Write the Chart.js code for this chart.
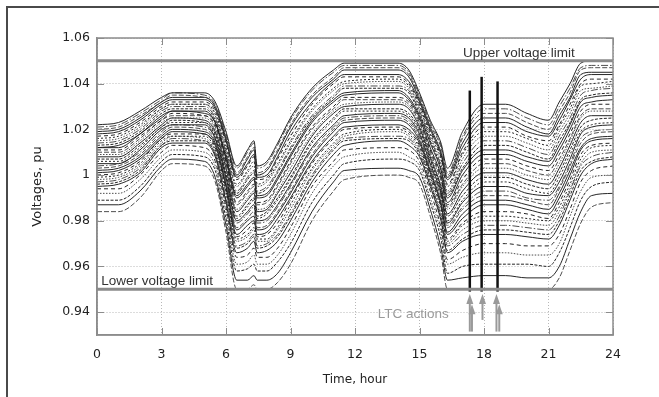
<!DOCTYPE html>
<html>
<head>
<meta charset="utf-8">
<script src="https://cdn.jsdelivr.net/npm/chart.js@4.4.0/dist/chart.umd.min.js"></script>
<style>
  html, body { margin: 0; padding: 0; background: #fff; }
  #wrap { position: relative; width: 659px; height: 397px; overflow: hidden; }
  #frame { position: absolute; left: 6px; top: 6px; width: 720px; height: 460px; border: 2px solid #4a4a4a; }
  canvas { position: absolute; left: 0; top: 0; }
</style>
</head>
<body>
<div id="wrap"><div id="frame"></div><canvas id="chartCanvas" width="659" height="397"></canvas></div>
<script>
    // time of each snapshot, hours
    const hours = [0, 1, 2, 3, 3.5, 5, 5.5, 6, 6.5, 7, 7.3, 7.45, 7.9, 8.4, 9, 10, 11, 11.5,
                   14, 14.5, 15, 15.5, 16, 16.3, 17, 18, 19, 20, 21, 21.5, 22, 22.5, 23, 24];

    // bus voltages (pu) at each snapshot, one column per bus
    const voltageSnapshots = [
      [1.022, 1.020, 1.018, 1.016, 1.014, 1.012, 1.011, 1.009, 1.007, 1.005, 1.003, 1.001, 0.999, 0.997, 0.995, 0.994, 0.992, 0.989, 0.987, 0.984],
      [1.023, 1.021, 1.019, 1.017, 1.015, 1.013, 1.011, 1.009, 1.007, 1.005, 1.004, 1.002, 1.000, 0.998, 0.996, 0.994, 0.992, 0.989, 0.987, 0.984],
      [1.028, 1.026, 1.024, 1.022, 1.020, 1.018, 1.017, 1.015, 1.013, 1.011, 1.009, 1.007, 1.005, 1.003, 1.001, 1.000, 0.998, 0.995, 0.993, 0.990],
      [1.034, 1.032, 1.031, 1.029, 1.028, 1.026, 1.024, 1.023, 1.021, 1.020, 1.018, 1.016, 1.015, 1.013, 1.012, 1.010, 1.008, 1.006, 1.004, 1.002],
      [1.036, 1.035, 1.033, 1.031, 1.030, 1.028, 1.027, 1.025, 1.024, 1.022, 1.021, 1.019, 1.017, 1.016, 1.014, 1.013, 1.011, 1.009, 1.007, 1.005],
      [1.036, 1.034, 1.033, 1.031, 1.030, 1.028, 1.026, 1.025, 1.023, 1.022, 1.020, 1.018, 1.017, 1.015, 1.014, 1.012, 1.010, 1.008, 1.006, 1.004],
      [1.032, 1.030, 1.029, 1.027, 1.025, 1.023, 1.022, 1.020, 1.018, 1.016, 1.015, 1.013, 1.011, 1.009, 1.008, 1.006, 1.004, 1.002, 0.999, 0.997],
      [1.019, 1.017, 1.015, 1.012, 1.010, 1.008, 1.006, 1.004, 1.001, 0.999, 0.997, 0.995, 0.993, 0.990, 0.988, 0.986, 0.984, 0.981, 0.978, 0.975],
      [1.004, 1.001, 0.999, 0.996, 0.993, 0.991, 0.988, 0.985, 0.982, 0.980, 0.977, 0.974, 0.972, 0.969, 0.966, 0.964, 0.961, 0.958, 0.954, 0.950],
      [1.011, 1.008, 1.005, 1.002, 0.999, 0.996, 0.993, 0.990, 0.987, 0.984, 0.981, 0.978, 0.974, 0.971, 0.968, 0.965, 0.962, 0.959, 0.954, 0.950],
      [1.015, 1.012, 1.009, 1.006, 1.002, 0.999, 0.996, 0.993, 0.990, 0.987, 0.984, 0.980, 0.977, 0.974, 0.971, 0.968, 0.965, 0.961, 0.956, 0.952],
      [1.004, 1.001, 0.999, 0.996, 0.993, 0.991, 0.988, 0.985, 0.982, 0.980, 0.977, 0.974, 0.972, 0.969, 0.966, 0.964, 0.961, 0.958, 0.954, 0.950],
      [1.006, 1.003, 1.000, 0.998, 0.995, 0.992, 0.989, 0.986, 0.984, 0.981, 0.978, 0.975, 0.972, 0.970, 0.967, 0.964, 0.961, 0.958, 0.954, 0.950],
      [1.014, 1.011, 1.008, 1.005, 1.002, 0.999, 0.996, 0.993, 0.990, 0.987, 0.984, 0.981, 0.977, 0.974, 0.971, 0.968, 0.965, 0.962, 0.957, 0.953],
      [1.025, 1.022, 1.019, 1.015, 1.012, 1.009, 1.006, 1.003, 0.999, 0.996, 0.993, 0.990, 0.987, 0.983, 0.980, 0.977, 0.974, 0.970, 0.966, 0.961],
      [1.038, 1.035, 1.032, 1.029, 1.026, 1.024, 1.021, 1.018, 1.015, 1.012, 1.009, 1.006, 1.003, 1.000, 0.997, 0.995, 0.992, 0.988, 0.984, 0.980],
      [1.046, 1.043, 1.041, 1.038, 1.035, 1.033, 1.030, 1.028, 1.025, 1.022, 1.020, 1.017, 1.014, 1.012, 1.009, 1.006, 1.004, 1.000, 0.997, 0.993],
      [1.049, 1.047, 1.044, 1.041, 1.039, 1.036, 1.034, 1.031, 1.029, 1.026, 1.024, 1.021, 1.018, 1.016, 1.013, 1.011, 1.008, 1.005, 1.002, 0.998],
      [1.049, 1.047, 1.044, 1.042, 1.039, 1.037, 1.034, 1.032, 1.029, 1.027, 1.025, 1.022, 1.020, 1.017, 1.015, 1.012, 1.010, 1.007, 1.003, 1.000],
      [1.046, 1.044, 1.041, 1.039, 1.037, 1.034, 1.032, 1.030, 1.027, 1.025, 1.023, 1.020, 1.018, 1.016, 1.013, 1.011, 1.008, 1.006, 1.002, 0.999],
      [1.036, 1.034, 1.032, 1.030, 1.028, 1.026, 1.024, 1.022, 1.020, 1.018, 1.016, 1.014, 1.012, 1.010, 1.008, 1.006, 1.004, 1.002, 0.999, 0.996],
      [1.024, 1.022, 1.020, 1.018, 1.016, 1.014, 1.011, 1.009, 1.007, 1.005, 1.003, 1.001, 0.999, 0.997, 0.995, 0.993, 0.990, 0.988, 0.985, 0.982],
      [1.014, 1.012, 1.009, 1.007, 1.004, 1.002, 0.999, 0.997, 0.994, 0.992, 0.990, 0.987, 0.985, 0.982, 0.980, 0.977, 0.975, 0.972, 0.968, 0.965],
      [1.003, 1.000, 0.998, 0.995, 0.992, 0.990, 0.987, 0.985, 0.982, 0.979, 0.977, 0.974, 0.971, 0.969, 0.966, 0.963, 0.961, 0.957, 0.954, 0.950],
      [1.019, 1.016, 1.012, 1.009, 1.005, 1.002, 0.998, 0.995, 0.991, 0.988, 0.985, 0.981, 0.978, 0.974, 0.971, 0.967, 0.964, 0.960, 0.955, 0.950],
      [1.031, 1.027, 1.023, 1.019, 1.015, 1.011, 1.007, 1.003, 0.999, 0.995, 0.991, 0.987, 0.982, 0.978, 0.974, 0.970, 0.966, 0.961, 0.956, 0.950],
      [1.031, 1.027, 1.023, 1.019, 1.015, 1.011, 1.007, 1.003, 0.999, 0.995, 0.991, 0.987, 0.982, 0.978, 0.974, 0.970, 0.966, 0.961, 0.956, 0.950],
      [1.027, 1.023, 1.019, 1.016, 1.012, 1.008, 1.004, 1.000, 0.996, 0.992, 0.989, 0.985, 0.981, 0.977, 0.973, 0.969, 0.965, 0.961, 0.955, 0.950],
      [1.024, 1.020, 1.017, 1.013, 1.009, 1.006, 1.002, 0.998, 0.994, 0.991, 0.987, 0.983, 0.980, 0.976, 0.972, 0.969, 0.965, 0.960, 0.955, 0.950],
      [1.032, 1.028, 1.024, 1.021, 1.017, 1.013, 1.009, 1.005, 1.001, 0.997, 0.994, 0.990, 0.986, 0.982, 0.978, 0.974, 0.970, 0.966, 0.960, 0.955],
      [1.040, 1.036, 1.033, 1.029, 1.025, 1.022, 1.018, 1.015, 1.011, 1.007, 1.004, 1.000, 0.996, 0.993, 0.989, 0.985, 0.982, 0.977, 0.972, 0.967],
      [1.049, 1.046, 1.042, 1.039, 1.035, 1.032, 1.028, 1.025, 1.021, 1.018, 1.014, 1.011, 1.007, 1.004, 1.000, 0.997, 0.993, 0.989, 0.984, 0.979],
      [1.050, 1.047, 1.044, 1.040, 1.037, 1.034, 1.031, 1.028, 1.024, 1.021, 1.018, 1.015, 1.012, 1.008, 1.005, 1.002, 0.999, 0.995, 0.991, 0.986],
      [1.050, 1.047, 1.044, 1.041, 1.038, 1.035, 1.031, 1.028, 1.025, 1.022, 1.019, 1.016, 1.013, 1.010, 1.007, 1.004, 1.000, 0.997, 0.992, 0.988]
    ];

    // more buses of the upper and middle band, same snapshots
    const lateralSnapshots = [
      [1.021, 1.019, 1.017, 1.015, 1.013, 1.012, 1.010, 1.008, 1.006, 1.004, 1.002, 1.000, 0.998, 0.996],
      [1.022, 1.020, 1.018, 1.016, 1.014, 1.012, 1.010, 1.008, 1.006, 1.005, 1.003, 1.001, 0.999, 0.997],
      [1.027, 1.025, 1.023, 1.021, 1.019, 1.018, 1.016, 1.014, 1.012, 1.010, 1.008, 1.006, 1.004, 1.002],
      [1.033, 1.032, 1.030, 1.029, 1.027, 1.025, 1.024, 1.022, 1.021, 1.019, 1.017, 1.016, 1.014, 1.013],
      [1.036, 1.034, 1.032, 1.031, 1.029, 1.028, 1.026, 1.025, 1.023, 1.022, 1.020, 1.018, 1.017, 1.015],
      [1.035, 1.034, 1.032, 1.031, 1.029, 1.027, 1.026, 1.024, 1.023, 1.021, 1.019, 1.018, 1.016, 1.015],
      [1.031, 1.030, 1.028, 1.026, 1.024, 1.023, 1.021, 1.019, 1.017, 1.016, 1.014, 1.012, 1.010, 1.009],
      [1.018, 1.016, 1.014, 1.011, 1.009, 1.007, 1.005, 1.003, 1.000, 0.998, 0.996, 0.994, 0.992, 0.989],
      [1.003, 1.000, 0.998, 0.995, 0.992, 0.990, 0.987, 0.984, 0.981, 0.979, 0.976, 0.973, 0.971, 0.968],
      [1.010, 1.007, 1.004, 1.001, 0.998, 0.995, 0.992, 0.989, 0.986, 0.983, 0.980, 0.976, 0.973, 0.970],
      [1.014, 1.011, 1.008, 1.004, 1.001, 0.998, 0.995, 0.992, 0.989, 0.986, 0.982, 0.979, 0.976, 0.973],
      [1.003, 1.000, 0.998, 0.995, 0.992, 0.990, 0.987, 0.984, 0.981, 0.979, 0.976, 0.973, 0.971, 0.968],
      [1.005, 1.002, 0.999, 0.997, 0.994, 0.991, 0.988, 0.985, 0.983, 0.980, 0.977, 0.974, 0.971, 0.969],
      [1.013, 1.010, 1.007, 1.004, 1.001, 0.998, 0.995, 0.992, 0.989, 0.986, 0.983, 0.979, 0.976, 0.973],
      [1.024, 1.021, 1.017, 1.014, 1.011, 1.008, 1.005, 1.001, 0.998, 0.995, 0.992, 0.989, 0.985, 0.982],
      [1.037, 1.034, 1.031, 1.028, 1.025, 1.023, 1.020, 1.017, 1.014, 1.011, 1.008, 1.005, 1.002, 0.999],
      [1.045, 1.042, 1.040, 1.037, 1.034, 1.032, 1.029, 1.027, 1.024, 1.021, 1.019, 1.016, 1.013, 1.011],
      [1.048, 1.046, 1.043, 1.040, 1.038, 1.035, 1.033, 1.030, 1.028, 1.025, 1.023, 1.020, 1.017, 1.015],
      [1.048, 1.046, 1.043, 1.041, 1.038, 1.036, 1.033, 1.031, 1.028, 1.026, 1.024, 1.021, 1.019, 1.016],
      [1.045, 1.043, 1.040, 1.038, 1.036, 1.033, 1.031, 1.029, 1.026, 1.024, 1.022, 1.019, 1.017, 1.015],
      [1.035, 1.033, 1.031, 1.029, 1.027, 1.025, 1.023, 1.021, 1.019, 1.017, 1.015, 1.013, 1.011, 1.009],
      [1.023, 1.021, 1.019, 1.017, 1.015, 1.012, 1.010, 1.008, 1.006, 1.004, 1.002, 1.000, 0.998, 0.996],
      [1.013, 1.010, 1.008, 1.005, 1.003, 1.000, 0.998, 0.995, 0.993, 0.991, 0.988, 0.986, 0.983, 0.981],
      [1.001, 0.999, 0.996, 0.993, 0.991, 0.988, 0.986, 0.983, 0.980, 0.978, 0.975, 0.972, 0.970, 0.967],
      [1.017, 1.014, 1.010, 1.007, 1.003, 1.000, 0.996, 0.993, 0.989, 0.986, 0.983, 0.979, 0.976, 0.972],
      [1.029, 1.025, 1.021, 1.017, 1.013, 1.009, 1.005, 1.001, 0.997, 0.993, 0.989, 0.984, 0.980, 0.976],
      [1.029, 1.025, 1.021, 1.017, 1.013, 1.009, 1.005, 1.001, 0.997, 0.993, 0.989, 0.984, 0.980, 0.976],
      [1.025, 1.021, 1.017, 1.014, 1.010, 1.006, 1.002, 0.998, 0.994, 0.990, 0.987, 0.983, 0.979, 0.975],
      [1.022, 1.018, 1.015, 1.011, 1.007, 1.004, 1.000, 0.996, 0.992, 0.989, 0.985, 0.981, 0.978, 0.974],
      [1.030, 1.026, 1.022, 1.019, 1.015, 1.011, 1.007, 1.003, 0.999, 0.995, 0.992, 0.988, 0.984, 0.980],
      [1.038, 1.034, 1.031, 1.027, 1.023, 1.020, 1.016, 1.013, 1.009, 1.005, 1.002, 0.998, 0.994, 0.991],
      [1.047, 1.044, 1.040, 1.037, 1.033, 1.030, 1.026, 1.023, 1.019, 1.016, 1.012, 1.009, 1.005, 1.002],
      [1.048, 1.045, 1.042, 1.038, 1.035, 1.032, 1.029, 1.026, 1.022, 1.019, 1.016, 1.013, 1.010, 1.006],
      [1.048, 1.045, 1.042, 1.039, 1.036, 1.033, 1.029, 1.026, 1.023, 1.020, 1.017, 1.014, 1.011, 1.008]
    ];

    // voltage limits
    const limitHours = [0, 24];
    const upperLimit = [1.05, 1.05];
    const lowerLimit = [0.95, 0.95];

    // LTC tap actions: short transients over the whole band
    const ltcHours = [17.34, 17.89, 18.63];
    const ltcSpikeHigh = [1.037, 1.043, 1.041];
    const ltcSpikeLow = [0.949, 0.949, 0.949];

    // arrows pointing at LTC actions
    const arrowHours = [17.34, 17.44, 17.93, 18.58, 18.71];
    const arrowTips = [0.948, 0.9435, 0.948, 0.948, 0.9435];
    const arrowBases = [0.9315, 0.9315, 0.9366, 0.9315, 0.9315];

    const xTickValues = [0, 3, 6, 9, 12, 15, 18, 21, 24];
    const yTickValues = [0.94, 0.96, 0.98, 1, 1.02, 1.04, 1.06];

    const notes = ['Upper voltage limit', 'Lower voltage limit', 'LTC actions'];

    const dashCycle = [[], [5, 2], [], [2, 2], [7, 2, 1.5, 2], [], [4, 3], [1.5, 1.5], [3, 1.5]];

    const datasets = [];

    datasets.push({
      data: limitHours.map((h, i) => ({ x: h, y: upperLimit[i] })),
      borderColor: '#8a8a8a', borderWidth: 3, pointRadius: 0, order: 0
    });
    datasets.push({
      data: limitHours.map((h, i) => ({ x: h, y: lowerLimit[i] })),
      borderColor: '#8a8a8a', borderWidth: 3, pointRadius: 0, order: 0
    });

    ltcHours.forEach((h, i) => {
      datasets.push({
        data: [{ x: h, y: ltcSpikeLow[i] }, { x: h, y: ltcSpikeHigh[i] }],
        borderColor: '#111', borderWidth: 2.5, pointRadius: 0, order: 1
      });
    });

    function addBuses(snapshots, offset) {
      const count = snapshots[0].length;
      for (let b = 0; b < count; b++) {
        const n = b + offset;
        datasets.push({
          data: hours.map((h, k) => ({ x: h, y: snapshots[k][b] })),
          borderColor: n % 3 === 1 ? '#454545' : '#1a1a1a',
          borderWidth: 0.95,
          borderDash: dashCycle[n % dashCycle.length],
          pointRadius: 0,
          cubicInterpolationMode: 'monotone',
          order: 2
        });
      }
    }
    addBuses(voltageSnapshots, 0);
    addBuses(lateralSnapshots, 4);

    // plot frame, inward tick marks, arrows and notes
    const extras = {
      id: 'extras',
      afterDatasetsDraw(chart) {
        const { ctx, chartArea: a, scales: { x, y } } = chart;
        ctx.save();
        ctx.strokeStyle = '#8c8c8c';
        ctx.lineWidth = 1.5;
        ctx.strokeRect(a.left, a.top, a.right - a.left, a.bottom - a.top);

        ctx.lineWidth = 1;
        ctx.beginPath();
        xTickValues.forEach(v => {
          const px = Math.round(x.getPixelForValue(v)) + 0.5;
          ctx.moveTo(px, a.bottom); ctx.lineTo(px, a.bottom - 7);
          ctx.moveTo(px, a.top); ctx.lineTo(px, a.top + 7);
        });
        yTickValues.forEach(v => {
          const py = Math.round(y.getPixelForValue(v)) + 0.5;
          ctx.moveTo(a.left, py); ctx.lineTo(a.left + 7, py);
          ctx.moveTo(a.right, py); ctx.lineTo(a.right - 7, py);
        });
        ctx.stroke();

        // arrows
        ctx.strokeStyle = '#9a9a9a';
        ctx.fillStyle = '#9a9a9a';
        ctx.lineWidth = 2;
        arrowHours.forEach((h, i) => {
          const px = x.getPixelForValue(h);
          const tip = y.getPixelForValue(arrowTips[i]);
          const base = y.getPixelForValue(arrowBases[i]);
          ctx.beginPath();
          ctx.moveTo(px, base); ctx.lineTo(px, tip + 6);
          ctx.stroke();
          ctx.beginPath();
          ctx.moveTo(px, tip); ctx.lineTo(px - 3.5, tip + 10); ctx.lineTo(px + 3.5, tip + 10);
          ctx.closePath();
          ctx.fill();
        });

        // notes
        ctx.font = '13.5px "Liberation Sans", Arial, sans-serif';
        ctx.textBaseline = 'alphabetic';
        ctx.textAlign = 'left';
        ctx.fillStyle = '#333';
        ctx.fillText(notes[0], x.getPixelForValue(17.02), y.getPixelForValue(1.05) - 4);
        ctx.fillText(notes[1], x.getPixelForValue(0.2), y.getPixelForValue(0.95) - 4);
        ctx.fillStyle = '#9a9a9a';
        ctx.fillText(notes[2], x.getPixelForValue(13.06), y.getPixelForValue(0.9375));
        ctx.restore();
      }
    };

    Chart.defaults.font.family = '"DejaVu Sans", Verdana, sans-serif';
    Chart.defaults.font.size = 12.5;
    Chart.defaults.color = '#222';

    const ctx = document.getElementById('chartCanvas').getContext('2d');
    new Chart(ctx, {
      type: 'line',
      data: { datasets: datasets },
      plugins: [extras],
      options: {
        responsive: false,
        animation: false,
        layout: { padding: { top: 38, right: 46, left: 0, bottom: 0 } },
        plugins: { legend: { display: false }, tooltip: { enabled: false } },
        scales: {
          x: {
            type: 'linear',
            min: 0, max: 24,
            afterFit: s => { s.height = 62; },
            afterBuildTicks: s => { s.ticks = xTickValues.map(v => ({ value: v })); },
            grid: { color: '#b8b8b8', drawTicks: false },
            border: { color: '#8c8c8c', width: 1.5, dash: [1, 2] },
            ticks: { padding: 12, maxRotation: 0 },
            title: { display: true, text: 'Time, hour', font: { size: 12 }, padding: { top: 0, bottom: 10 } }
          },
          y: {
            min: 0.93, max: 1.06,
            afterFit: s => { s.width = 97; },
            afterBuildTicks: s => { s.ticks = yTickValues.map(v => ({ value: v })); },
            grid: { color: '#b8b8b8', drawTicks: false },
            border: { color: '#8c8c8c', width: 1.5, dash: [1, 2] },
            ticks: { padding: 7, callback: v => String(+v.toFixed(2)) },
            title: { display: true, text: 'Voltages, pu', font: { size: 13 }, padding: { top: 30, bottom: 0 } }
          }
        }
      }
    });
</script>
</body>
</html>
